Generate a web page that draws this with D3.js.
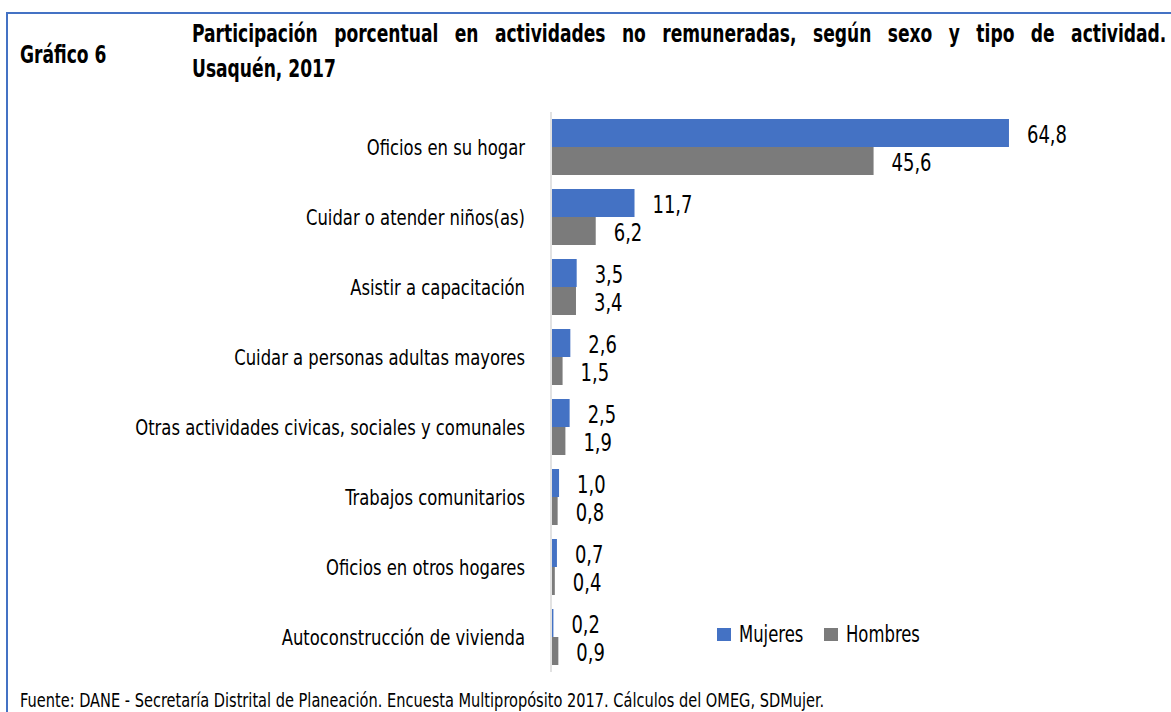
<!DOCTYPE html>
<html><head><meta charset="utf-8">
<script src="https://cdn.jsdelivr.net/npm/d3@7"></script>
<style>
html,body{margin:0;padding:0;background:#fff;}
svg{display:block;}
text{font-family:"Liberation Sans Narrow","DejaVu Sans Condensed","Liberation Sans",sans-serif;fill:#000;}
</style></head>
<body>
<svg id="chart" width="1171" height="712"></svg>
<script>
const categories = ["Oficios en su hogar","Cuidar o atender niños(as)","Asistir a capacitación","Cuidar a personas adultas mayores","Otras actividades civicas, sociales y comunales","Trabajos comunitarios","Oficios en otros hogares","Autoconstrucción de vivienda"];
const mujeres = [64.8, 11.7, 3.5, 2.6, 2.5, 1.0, 0.7, 0.2];
const hombres = [45.6, 6.2, 3.4, 1.5, 1.9, 0.8, 0.4, 0.9];
const seriesNames = ["Mujeres","Hombres"];
const chartLabel = "Gráfico 6";
const titleLine1 = "Participación porcentual en actividades no remuneradas, según sexo y tipo de actividad.";
const titleLine2 = "Usaquén, 2017";
const sourceText = "Fuente: DANE - Secretaría Distrital de Planeación. Encuesta Multipropósito 2017. Cálculos del OMEG, SDMujer.";

const colors = {Mujeres:"#4472C4", Hombres:"#7B7B7B"};
const svg = d3.select("#chart");
const locale = d3.formatLocale({decimal:",", thousands:".", grouping:[3], currency:["",""]});
const fmt = locale.format(".1f");

// frame
svg.append("path").attr("d","M7,712 V13 H1171").attr("fill","none").attr("stroke","#4472C4").attr("stroke-width",2);

function measure(str, size, weight){
  const t = svg.append("text").attr("font-size",size).attr("font-weight",weight||"normal").text(str);
  const w = t.node().getComputedTextLength(); t.remove(); return w;
}
function placeText(str, x, y, size, weight, k, anchor, extra){
  const t = svg.append("text")
    .attr("transform",`translate(${x},${y}) scale(${k},1)`)
    .attr("font-size",size).attr("font-weight",weight||"normal")
    .attr("text-anchor",anchor||"start").text(str);
  if(extra) extra(t);
  return t;
}

// scales
const x = d3.scaleLinear().domain([0,70]).range([552, 552+70*7.052]);
const y = d3.scaleBand().domain(categories).range([112,672]).paddingInner(0.2).paddingOuter(0.1);
const sub = d3.scaleBand().domain(seriesNames).range([0, y.bandwidth()]);

// axis line
const yAxis = d3.axisLeft(y).tickSize(0).tickFormat("");
const ag = svg.append("g").attr("transform",`translate(551,0)`).call(yAxis);
ag.select(".domain").attr("stroke","#D9D9D9").attr("stroke-width",1.5).attr("d","M0,112V672");

// title
const kTitle = 144 / measure(titleLine2, 24, "bold");
placeText(chartLabel, 20, 63, 24, "bold", kTitle);
{
  const w0 = measure(titleLine1, 24, "bold");
  const nsp = titleLine1.split(" ").length - 1;
  const ws = (975 / kTitle - w0) / nsp;
  placeText(titleLine1, 192, 42, 24, "bold", kTitle, "start", t => t.style("word-spacing", ws + "px"));
}
placeText(titleLine2, 192, 77, 24, "bold", kTitle);

// category labels
const kCat = 390 / measure(categories[4], 22);
categories.forEach(c => {
  placeText(c, 525, y(c) + y.bandwidth()/2 + 8, 22, "normal", kCat, "end");
});

// bars
const series = {Mujeres: mujeres, Hombres: hombres};
const kVal = 40 / measure("64,8", 25);
seriesNames.forEach(s => {
  const g = svg.append("g");
  categories.forEach((c, i) => {
    const v = series[s][i];
    g.append("rect")
      .attr("x", x(0)).attr("y", y(c) + sub(s))
      .attr("width", x(v) - x(0)).attr("height", sub.bandwidth())
      .attr("fill", colors[s]);
    placeText(fmt(v), x(v) + 18, y(c) + sub(s) + sub.bandwidth()/2 + 10, 25, "normal", kVal);
  });
});

// legend
const kLeg = 74 / measure("Hombres", 23);
const legX = [717, 824];
seriesNames.forEach((s, i) => {
  svg.append("rect").attr("x", legX[i]).attr("y", 628).attr("width", 14).attr("height", 13).attr("fill", colors[s]);
  placeText(s, legX[i] + 22, 642, 23, "normal", kLeg);
});

// source
const kSrc = 805 / measure(sourceText, 20);
placeText(sourceText, 20, 707, 20, "normal", kSrc);
</script>
</body></html>
